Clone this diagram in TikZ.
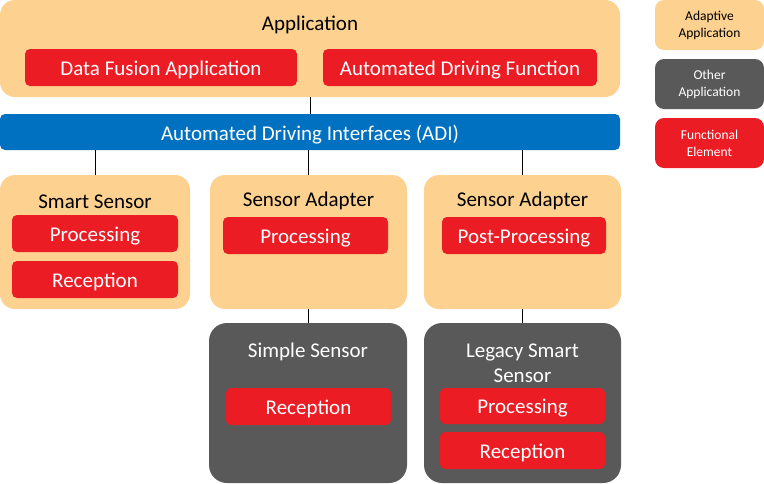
\documentclass[tikz,border=0pt]{standalone}
\usepackage{fontspec}
\setmainfont{Carlito}
\definecolor{adapt}{HTML}{FDD18F}
\definecolor{redfe}{HTML}{EC1C24}
\definecolor{other}{HTML}{595959}
\definecolor{adiblue}{HTML}{0070C0}
\begin{document}
\begin{tikzpicture}[x=1pt,y=-1pt,
  box/.style={rectangle,inner sep=0pt,anchor=center},
  adaptbox/.style={box,fill=adapt,rounded corners=15pt},
  otherbox/.style={box,fill=other,rounded corners=18pt},
  febox/.style={box,fill=redfe,rounded corners=5pt,text=white,font=\fontsize{21}{24}\selectfont},
  txt/.style={inner sep=0pt,yshift=-0.3pt},
  title/.style={inner sep=0pt,yshift=-2.3pt,font=\fontsize{21}{24}\selectfont},
  legbox/.style={box,rounded corners=9pt,minimum width=109pt,minimum height=50pt,align=center,font=\fontsize{13.5}{16.5}\selectfont},
  conn/.style={draw=black,line width=0.8pt}]
\useasboundingbox (0,0) rectangle (764,483);
% Application
\node[adaptbox,minimum width=620pt,minimum height=97pt] (app) at (310,48.5) {};
\node[title] (apptitle) at (310,23) {Application};
\node[febox,minimum width=272pt,minimum height=37pt] (dfa) at (161,67.5) {};
\node[title,text=white] (dfat) at (dfa) {Data Fusion Application};
\node[febox,minimum width=274pt,minimum height=37pt] (adf) at (460,67.5) {};
\node[title,text=white] (adft) at (adf) {Automated Driving Function};
% ADI
\node[box,fill=adiblue,rounded corners=5pt,minimum width=620pt,minimum height=36pt] (adi) at (310,132) {};
\node[title,text=white] (adit) at (adi) {Automated Driving Interfaces (ADI)};
% Smart sensor
\node[adaptbox,minimum width=190pt,minimum height=134pt] (smart) at (95,242) {};
\node[title] (smarttitle) at (95,199) {Smart Sensor};
\node[febox,minimum width=166pt,minimum height=37pt] (sproc) at (95,233.5) {};
\node[title,text=white] (sproct) at (sproc) {Processing};
\node[febox,minimum width=166pt,minimum height=37pt] (srec) at (95,279.5) {};
\node[title,text=white] (srect) at (srec) {Reception};
% Sensor adapter 1
\node[adaptbox,minimum width=197pt,minimum height=134pt] (sa1) at (308.5,242) {};
\node[title] (sa1title) at (308.5,199) {Sensor Adapter};
\node[febox,minimum width=165pt,minimum height=37pt] (sa1proc) at (305.5,235.5) {};
\node[title,text=white] (sa1proct) at (sa1proc) {Processing};
% Sensor adapter 2
\node[adaptbox,minimum width=197pt,minimum height=134pt] (sa2) at (522.5,242) {};
\node[title] (sa2title) at (522.5,199) {Sensor Adapter};
\node[febox,minimum width=164pt,minimum height=37pt] (sa2post) at (524,235.5) {};
\node[title,text=white] (sa2postt) at (sa2post) {Post-Processing};
% Simple sensor
\node[otherbox,minimum width=198pt,minimum height=160pt] (simple) at (308,403) {};
\node[title,text=white] (simpletitle) at (308,350) {Simple Sensor};
\node[febox,minimum width=165pt,minimum height=37pt] (simplerec) at (308.5,406.5) {};
\node[title,text=white] (simplerect) at (simplerec) {Reception};
% Legacy smart sensor
\node[otherbox,minimum width=197pt,minimum height=160pt] (legacy) at (522.5,403) {};
\node[title,text=white,align=center,font=\fontsize{21}{25}\selectfont] (legacytitle) at (522.5,360.5) {Legacy Smart\\Sensor};
\node[febox,minimum width=165pt,minimum height=36pt] (legproc) at (522.5,406) {};
\node[title,text=white] (legproct) at (legproc) {Processing};
\node[febox,minimum width=165pt,minimum height=37pt] (legrec) at (522.5,450.5) {};
\node[title,text=white] (legrect) at (legrec) {Reception};
% Legend
\node[legbox,fill=adapt] (lega) at (709.5,25) {};
\node[txt,align=center,font=\fontsize{13.5}{16.5}\selectfont] (legat) at (lega) {Adaptive\\Application};
\node[legbox,fill=other] (lego) at (709.5,84) {};
\node[txt,align=center,text=white,font=\fontsize{13.5}{16.5}\selectfont] (legot) at (lego) {Other\\Application};
\node[legbox,fill=redfe] (legf) at (709.5,143) {};
\node[txt,align=center,text=white,font=\fontsize{13.5}{16.5}\selectfont] (legft) at (legf) {Functional\\Element};
% Connectors
\draw[conn] (app.south) -- (adi.north);
\draw[conn] (smart.north) -- (smart.north |- adi.south);
\draw[conn] (sa1.north) -- (sa1.north |- adi.south);
\draw[conn] (sa2.north) -- (sa2.north |- adi.south);
\draw[conn] (sa1.south) -- (sa1.south |- simple.north);
\draw[conn] (sa2.south) -- (sa2.south |- legacy.north);
\end{tikzpicture}
\end{document}
